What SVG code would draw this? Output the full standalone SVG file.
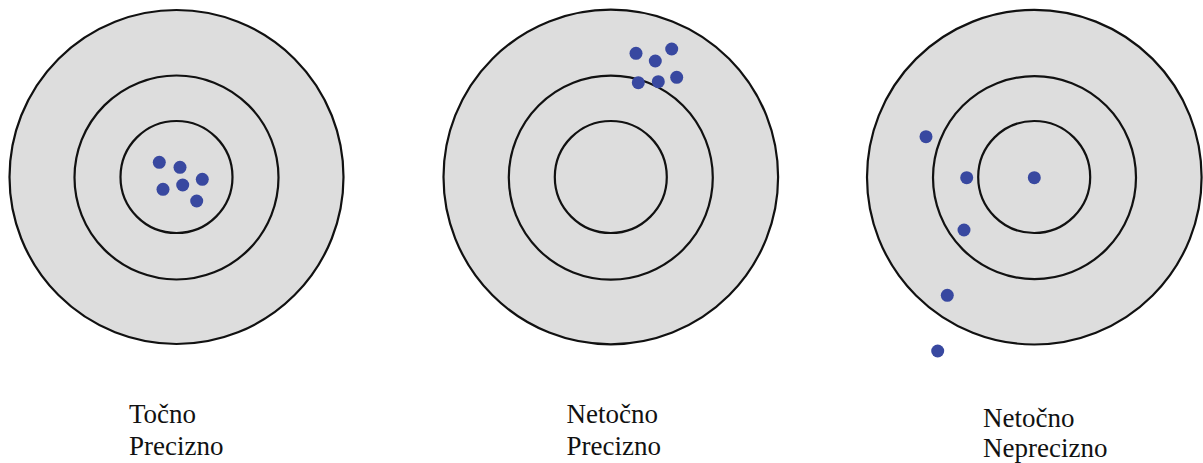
<svg xmlns="http://www.w3.org/2000/svg" width="1203" height="463" viewBox="0 0 1203 463">
<style>
.ring{fill:none;stroke:#111;stroke-width:2.2}
.face{fill:#dddddd;stroke:#111;stroke-width:2.2}
.dot{fill:#3848a0}
.lbl{font-family:"Liberation Serif","Times New Roman",serif;font-size:27px;fill:#111}
</style>
<rect width="1203" height="463" fill="#ffffff"/>
<g id="target-accurate-precise">
<circle class="face" cx="176.5" cy="177" r="167"/>
<circle class="ring" cx="176.5" cy="177.5" r="102"/>
<circle class="ring" cx="176.5" cy="177" r="56"/>
<circle class="dot" cx="159.3" cy="162.3" r="6.5"/>
<circle class="dot" cx="180" cy="167.3" r="6.5"/>
<circle class="dot" cx="202.3" cy="179.3" r="6.5"/>
<circle class="dot" cx="182.7" cy="185" r="6.5"/>
<circle class="dot" cx="163" cy="189.3" r="6.5"/>
<circle class="dot" cx="196.7" cy="201" r="6.5"/>
</g>
<g id="target-inaccurate-precise">
<circle class="face" cx="610.8" cy="177" r="167.3"/>
<circle class="ring" cx="610.8" cy="177.6" r="102"/>
<circle class="ring" cx="610.8" cy="177" r="56"/>
<circle class="dot" cx="636" cy="53.3" r="6.5"/>
<circle class="dot" cx="671.7" cy="49" r="6.5"/>
<circle class="dot" cx="655.3" cy="61" r="6.5"/>
<circle class="dot" cx="638.3" cy="82.7" r="6.5"/>
<circle class="dot" cx="658.3" cy="81.7" r="6.5"/>
<circle class="dot" cx="676.7" cy="77.3" r="6.5"/>
</g>
<g id="target-inaccurate-imprecise">
<circle class="face" cx="1034.3" cy="177.2" r="167.3"/>
<circle class="ring" cx="1034.5" cy="177.6" r="101.5"/>
<circle class="ring" cx="1034.2" cy="177" r="56"/>
<circle class="dot" cx="926" cy="136.7" r="6.5"/>
<circle class="dot" cx="966.7" cy="177.7" r="6.5"/>
<circle class="dot" cx="1034.3" cy="177.7" r="6.5"/>
<circle class="dot" cx="964" cy="230" r="6.5"/>
<circle class="dot" cx="947.3" cy="295.3" r="6.5"/>
<circle class="dot" cx="937.7" cy="351" r="6.5"/>
</g>
<g id="label-left">
<text class="lbl" x="129" y="423">Točno</text>
<text class="lbl" x="129" y="454.5">Precizno</text>
</g>
<g id="label-middle">
<text class="lbl" x="566.5" y="423">Netočno</text>
<text class="lbl" x="566.5" y="454.5">Precizno</text>
</g>
<g id="label-right">
<text class="lbl" x="983" y="426.7">Netočno</text>
<text class="lbl" x="983" y="456.7">Neprecizno</text>
</g>
<g id="connectors"/>
</svg>
